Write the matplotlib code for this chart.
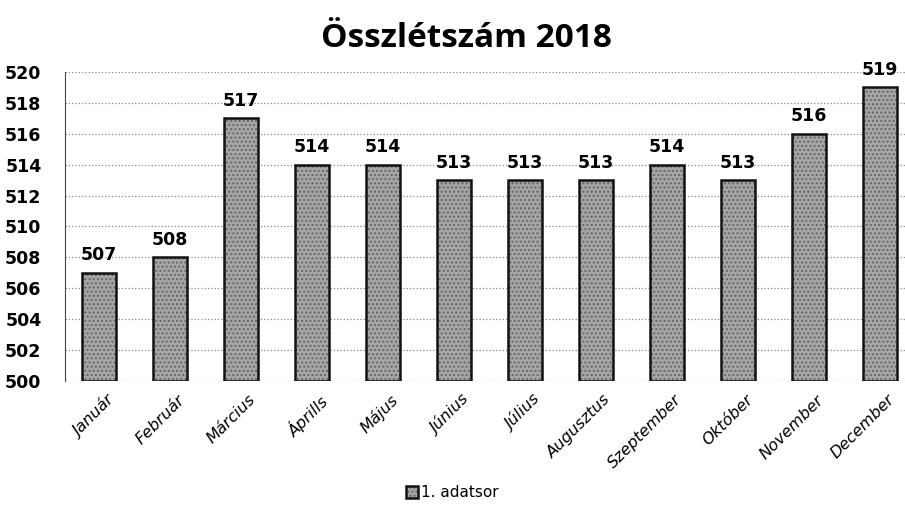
import numpy as np
import matplotlib.pyplot as plt

# data
months = ['Január', 'Február', 'Március', 'Áprills', 'Május', 'Június',
          'Július', 'Augusztus', 'Szeptember', 'Október', 'November', 'December']
values = [507, 508, 517, 514, 514, 513, 513, 513, 514, 513, 516, 519]
yticks = list(range(500, 521, 2))

fig = plt.figure(figsize=(9.05, 5.13), dpi=100)
ax = fig.add_axes([65/905, 132/513, 840/905, 309/513])

x = np.arange(len(months))
bars = ax.bar(x, [v - 500 for v in values], bottom=500, width=0.48,
              color='#a6a6a6', edgecolor='#111111', linewidth=1.8,
              hatch='....', label='1. adatsor', zorder=3)
for b in bars:
    b._hatch_color = (0.4, 0.4, 0.4, 1.0)

for xi, v in zip(x, values):
    ax.text(xi, v + 0.55, str(v), ha='center', va='bottom',
            fontsize=12.5, fontweight='bold', family='Liberation Sans Narrow')

ax.set_ylim(500, 520)
ax.set_xlim(-0.48, 11.35)
ax.set_yticks(yticks)
ax.set_yticklabels([str(t) for t in yticks], fontsize=12.5, fontweight='bold',
                   family='Liberation Sans Narrow')
ax.set_xticks(x + 0.1)
ax.set_xticklabels(months, rotation=45, ha='right', rotation_mode='anchor',
                   fontsize=11.5, style='italic', family='DejaVu Sans')
ax.tick_params(length=0, pad=8)
ax.tick_params(axis='y', pad=17)
ax.grid(axis='y', linestyle=':', color='#888888', linewidth=0.9, zorder=0)
for s in ['top', 'right', 'bottom']:
    ax.spines[s].set_visible(False)
ax.spines['left'].set_color('#444444')

fig.text(0.515, 0.925, 'Összlétszám 2018', ha='center', va='center',
         fontsize=24, fontweight='bold', family='Open Sans')

fig.legend(handles=[bars], labels=['1. adatsor'], loc='center',
           bbox_to_anchor=(0.5, 0.04), frameon=False, fontsize=11,
           handlelength=0.8, handleheight=0.8, handletextpad=0.2)

fig.savefig('out.png', dpi=100)
